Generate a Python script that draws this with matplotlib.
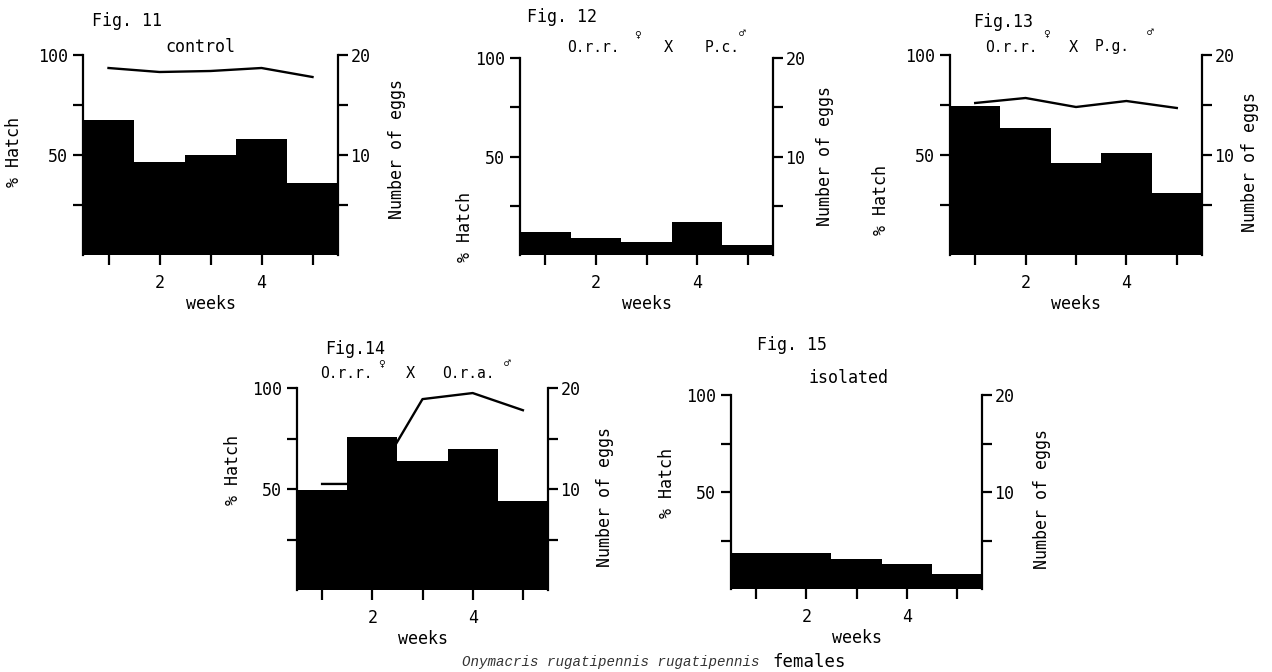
import matplotlib
matplotlib.use('Agg')
import matplotlib.pyplot as plt

W, H = 1272, 672
weeks = [1, 2, 3, 4, 5]

# % hatch per week (bars) and number of eggs per week (line)
hatch_11 = [67.5, 46.5, 50, 58, 36]
eggs_11 = [18.7, 18.3, 18.4, 18.7, 17.8]
hatch_12 = [11.5, 8.5, 6.5, 17, 5]
hatch_13 = [74.5, 63.5, 46, 51, 31]
eggs_13 = [15.2, 15.7, 14.8, 15.4, 14.7]
hatch_14 = [49.5, 75.5, 64, 70, 44]
eggs_14 = [10.5, 10.5, 18.9, 19.5, 17.8]
hatch_15 = [18.7, 18.7, 15.6, 13, 7.8]

FONT = 'DejaVu Sans Mono'
plt.rcParams['font.family'] = FONT
plt.rcParams['font.size'] = 12


def px(x, y):
    return x / W, 1 - y / H


def panel(fig, box, hatch, eggs, ylab_xy, rlab_xy):
    left, top, right, bottom = box
    ax = fig.add_axes([left / W, 1 - bottom / H, (right - left) / W, (bottom - top) / H])
    ax.bar(weeks, hatch, width=1.0, color='black', linewidth=0)
    ax.set_xlim(0.5, 5.5)
    ax.set_ylim(0, 100)
    ax.set_xticks(weeks)
    ax.set_xticklabels(['', '2', '', '4', ''])
    ax.set_yticks([25, 50, 75, 100])
    ax.set_yticklabels(['', '50', '', '100'])
    for s in ['top', 'right', 'bottom']:
        ax.spines[s].set_visible(False)
    ax.spines['left'].set_linewidth(1.6)
    ax.tick_params(axis='both', direction='out', length=7, width=1.6, pad=4)
    ax.tick_params(axis='x', pad=7)
    ax.set_xlabel('weeks', labelpad=2)
    ax.set_ylabel('% Hatch', va='center')
    ax.yaxis.set_label_coords(*ylab_xy)

    ax2 = ax.twinx()
    ax2.set_ylim(0, 20)
    ax2.set_yticks([5, 10, 15, 20])
    ax2.set_yticklabels(['', '10', '', '20'])
    for s in ['top', 'left', 'bottom']:
        ax2.spines[s].set_visible(False)
    ax2.spines['right'].set_linewidth(1.6)
    ax2.tick_params(axis='y', direction='out', length=7, width=1.6, pad=2)
    ax2.set_ylabel('Number of eggs', va='center', rotation=90)
    ax2.yaxis.set_label_coords(*rlab_xy)
    if eggs is not None:
        ax2.plot(weeks, eggs, color='black', lw=1.7)
    return ax


fig = plt.figure(figsize=(W / 100, H / 100), dpi=100)
fig.patch.set_facecolor('white')

panel(fig, (83, 55, 338, 255), hatch_11, eggs_11, (-0.27, 0.515), (1.23, 0.53))
panel(fig, (520, 58, 773, 255), hatch_12, None, (-0.217, 0.141), (1.206, 0.505))
panel(fig, (950, 55, 1202, 255), hatch_13, eggs_13, (-0.274, 0.275), (1.19, 0.465))
panel(fig, (297, 388, 548, 590), hatch_14, eggs_14, (-0.255, 0.594), (1.227, 0.46))
panel(fig, (731, 395, 982, 589), hatch_15, None, (-0.255, 0.547), (1.239, 0.464))


def t(x, y, s, ha='left', size=12, **kw):
    fig.text(*px(x, y), s, ha=ha, va='center', fontsize=size, **kw)


# panel headings
t(92, 21, 'Fig. 11')
t(200, 47, 'control', ha='center')

t(527, 17, 'Fig. 12')
t(567, 48, 'O.r.r.', size=10.5)
t(638, 34, '\u2640', ha='center', size=8)
t(668, 48, 'X', ha='center', size=11)
t(705, 48, 'P.c.', size=10.5)
t(742, 34, '\u2642', ha='center', size=8)

t(973, 22, 'Fig.13')
t(985, 47, 'O.r.r.', size=10.5)
t(1047, 33, '\u2640', ha='center', size=8)
t(1073, 47, 'X', ha='center', size=11)
t(1095, 47, 'P.g.', size=10.5)
t(1150, 33, '\u2642', ha='center', size=8)

t(325, 349, 'Fig.14')
t(320, 373, 'O.r.r.', size=10.5)
t(382, 363, '\u2640', ha='center', size=8)
t(410, 373, 'X', ha='center', size=11)
t(442, 373, 'O.r.a.', size=10.5)
t(507, 364, '\u2642', ha='center', size=8)

t(757, 345, 'Fig. 15')
t(848, 378, 'isolated', ha='center')

# caption
t(462, 662, 'Onymacris rugatipennis rugatipennis', size=10.2,
  family='Liberation Mono', style='italic', color='#333333')
t(772, 662, 'females', size=12.5)

fig.savefig('out.png', dpi=100, facecolor='white')
